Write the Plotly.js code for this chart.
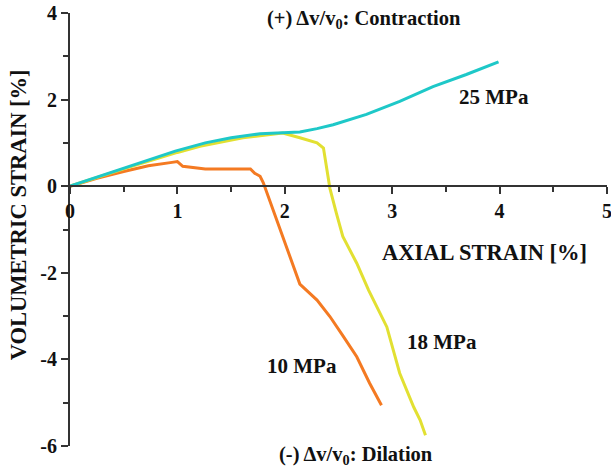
<!DOCTYPE html>
<html>
<head>
<meta charset="utf-8">
<script src="https://cdn.plot.ly/plotly-3.0.1.min.js"></script>
<style>html,body{margin:0;padding:0;background:#fff;}#chart{width:611px;height:472px;}</style>
</head>
<body>
<div id="chart"></div>
<script>
// 25 MPa
const x25 = [0, 0.28, 0.5, 0.75, 0.98, 1.26, 1.5, 1.77, 1.98, 2.14, 2.3, 2.45, 2.76, 3.07, 3.38, 3.69, 3.99];
const y25 = [0, 0.23, 0.41, 0.62, 0.81, 1.0, 1.12, 1.21, 1.23, 1.25, 1.33, 1.42, 1.66, 1.96, 2.30, 2.58, 2.87];
// 18 MPa
const x18 = [0, 0.5, 1.0, 1.21, 1.61, 1.98, 2.14, 2.30, 2.36, 2.39, 2.42, 2.48, 2.54, 2.67, 2.78, 2.95, 3.01, 3.07, 3.20, 3.26, 3.31];
const y18 = [0, 0.40, 0.78, 0.92, 1.12, 1.23, 1.12, 1.0, 0.88, 0.38, -0.05, -0.62, -1.16, -1.78, -2.40, -3.25, -3.80, -4.32, -5.10, -5.40, -5.75];
// 10 MPa
const x10 = [0, 0.25, 0.5, 0.73, 0.95, 1.0, 1.05, 1.26, 1.5, 1.68, 1.72, 1.77, 1.80, 1.99, 2.14, 2.30, 2.42, 2.54, 2.67, 2.79, 2.90];
const y10 = [0, 0.18, 0.34, 0.47, 0.55, 0.57, 0.46, 0.40, 0.40, 0.40, 0.30, 0.23, 0.08, -1.24, -2.26, -2.63, -3.01, -3.45, -3.94, -4.55, -5.06];

const xTicks = [0, 1, 2, 3, 4, 5];
const yTicks = [-6, -4, -2, 0, 2, 4];

const serif = '"Liberation Serif", "Times New Roman", serif';
const lineW = 3;

const traces = [
  {x: x10, y: y10, mode: 'lines', name: '10 MPa', line: {color: '#F47A22', width: lineW}},
  {x: x18, y: y18, mode: 'lines', name: '18 MPa', line: {color: '#E2E032', width: lineW}},
  {x: x25, y: y25, mode: 'lines', name: '25 MPa', line: {color: '#1EC8C8', width: lineW}}
];

const annFont = {family: serif, size: 21, color: '#111', weight: 'bold'};
const noteFont = {family: serif, size: 20.5, color: '#111', weight: 'bold'};

const layout = {
  width: 611, height: 472,
  margin: {l: 70, r: 4, t: 13, b: 26},
  paper_bgcolor: '#fff', plot_bgcolor: '#fff',
  showlegend: false,
  xaxis: {
    range: [0, 5], anchor: 'free', position: 0.6,
    tickvals: xTicks, ticktext: xTicks.map(String),
    ticklabeloverflow: 'allow',
    showgrid: false, zeroline: false,
    showline: true, linecolor: '#333', linewidth: 2,
    ticks: 'outside', ticklen: 7, tickwidth: 2, tickcolor: '#333',
    minor: {dtick: 0.5, ticks: 'outside', ticklen: 5, tickwidth: 2, tickcolor: '#333', showgrid: false},
    tickfont: {family: serif, size: 20, color: '#111', weight: 'bold'}
  },
  yaxis: {
    range: [-6, 4],
    tickvals: yTicks, ticktext: yTicks.map(v => v < 0 ? '-' + Math.abs(v) : String(v)),
    ticklabeloverflow: 'allow',
    showgrid: false, zeroline: false,
    showline: true, linecolor: '#333', linewidth: 2,
    ticks: 'outside', ticklen: 7, tickwidth: 2, tickcolor: '#333',
    minor: {dtick: 1, ticks: 'outside', ticklen: 5, tickwidth: 2, tickcolor: '#333', showgrid: false},
    tickfont: {family: serif, size: 20, color: '#111', weight: 'bold'}
  },
  annotations: [
    {text: 'AXIAL STRAIN [%]', xref: 'paper', yref: 'paper', x: 0.771, y: 0.448, xanchor: 'center', yanchor: 'middle', showarrow: false, font: {family: serif, size: 22.5, color: '#111', weight: 'bold'}},
    {text: 'VOLUMETRIC STRAIN [%]', xref: 'paper', yref: 'paper', x: 0, xshift: -52, y: 0.533, xanchor: 'center', yanchor: 'middle', textangle: -90, showarrow: false, font: {family: serif, size: 22.5, color: '#111', weight: 'bold'}},
    {text: '(+) Δv/v<sub>0</sub>: Contraction', xref: 'paper', yref: 'paper', x: 0.547, y: 0.984, xanchor: 'center', yanchor: 'middle', showarrow: false, font: noteFont},
    {text: '(-) Δv/v<sub>0</sub>: Dilation', xref: 'paper', yref: 'paper', x: 0.533, y: -0.021, xanchor: 'center', yanchor: 'middle', showarrow: false, font: noteFont},
    {text: '25 MPa', x: 3.95, y: 2.05, xanchor: 'center', yanchor: 'middle', showarrow: false, font: annFont},
    {text: '18 MPa', x: 3.46, y: -3.6, xanchor: 'center', yanchor: 'middle', showarrow: false, font: annFont},
    {text: '10 MPa', x: 2.16, y: -4.15, xanchor: 'center', yanchor: 'middle', showarrow: false, font: annFont}
  ]
};

Plotly.newPlot('chart', traces, layout, {displayModeBar: false, staticPlot: true});
</script>
</body>
</html>
